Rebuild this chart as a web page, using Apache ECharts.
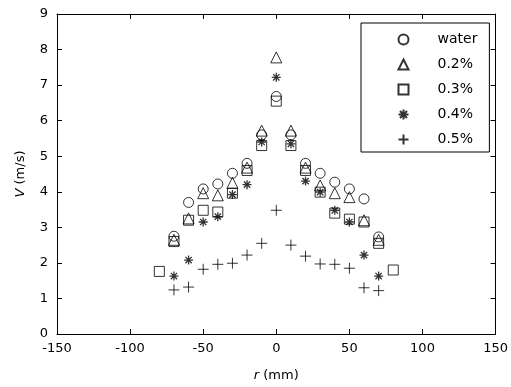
<!DOCTYPE html>
<html>
<head>
<meta charset="utf-8">
<script src="https://cdn.jsdelivr.net/npm/echarts@6/dist/echarts.min.js"></script>
<style>
html, body { margin: 0; padding: 0; background: #fff; }
#main { width: 511px; height: 387px; }
</style>
</head>
<body>
<div id="main"></div>
<script>
// radial positions (mm)
var rWater = [-70, -60, -50, -40, -30, -20, -10, 0, 10, 20, 30, 40, 50, 60, 70];
var vWater = [2.75, 3.7, 4.08, 4.22, 4.52, 4.8, 5.6, 6.68, 5.6, 4.8, 4.52, 4.27, 4.08, 3.8, 2.73];

var r02 = [-70, -60, -50, -40, -30, -20, -10, 0, 10, 20, 30, 40, 50, 60, 70];
var v02 = [2.65, 3.25, 3.96, 3.9, 4.25, 4.68, 5.72, 7.78, 5.72, 4.68, 4.18, 3.96, 3.85, 3.2, 2.65];

var r03 = [-80, -70, -60, -50, -40, -30, -20, -10, 0, 10, 20, 30, 40, 50, 60, 70, 80];
var v03 = [1.76, 2.6, 3.2, 3.48, 3.43, 3.96, 4.6, 5.3, 6.55, 5.3, 4.6, 3.99, 3.4, 3.23, 3.15, 2.55, 1.8];

var r04 = [-70, -60, -50, -40, -30, -20, -10, 0, 10, 20, 30, 40, 50, 60, 70];
var v04 = [1.63, 2.08, 3.15, 3.3, 3.92, 4.2, 5.4, 7.22, 5.35, 4.3, 3.99, 3.48, 3.15, 2.22, 1.63];

var r05 = [-70, -60, -50, -40, -30, -20, -10, 0, 10, 20, 30, 40, 50, 60, 70];
var v05 = [1.24, 1.32, 1.82, 1.96, 1.99, 2.22, 2.55, 3.48, 2.5, 2.19, 1.97, 1.96, 1.85, 1.3, 1.22];

var seriesNames = ['water', '0.2%', '0.3%', '0.4%', '0.5%'];

function pairs(xs, ys) {
    var out = [];
    for (var i = 0; i < xs.length; i++) {
        out.push([xs[i], ys[i]]);
    }
    return out;
}

var starPath = 'path://M5,0L5,10M0,5L10,5M1.5,1.5L8.5,8.5M8.5,1.5L1.5,8.5';
var plusPath = 'path://M5,0L5,10M0,5L10,5';

var fontName = 'DejaVu Sans';

function mk(name, data, symbol, size, bw) {
    return {
        name: name,
        type: 'scatter',
        data: data,
        symbol: symbol,
        symbolSize: size,
        itemStyle: { color: 'none', borderColor: '#000', borderWidth: bw },
        emphasis: { disabled: true },
        z: 3
    };
}

var myChart = echarts.init(document.getElementById('main'));
var option = {
    animation: false,
    backgroundColor: '#fff',
    grid: { left: 57, right: 14, top: 14, bottom: 53 },
    legend: {
        orient: 'vertical',
        left: 361,
        top: 23,
        padding: [9, 12, 5, 35],
        itemWidth: 10,
        itemHeight: 10,
        itemGap: 10,
        borderColor: '#000',
        borderWidth: 1,
        backgroundColor: '#fff',
        selectedMode: false,
        textStyle: { fontFamily: fontName, fontSize: 14, color: '#000', padding: [0, 0, 0, 24] },
        data: seriesNames
    },
    xAxis: [{
        type: 'value',
        min: -150, max: 150, interval: 50,
        position: 'bottom',
        name: '{i|r} (mm)',
        nameLocation: 'middle',
        nameGap: 35,
        nameTextStyle: {
            fontFamily: fontName, fontSize: 13, color: '#000',
            rich: { i: { fontFamily: fontName, fontSize: 13, fontStyle: 'italic', color: '#000' } }
        },
        axisLine: { onZero: false, lineStyle: { color: '#000', width: 1 } },
        axisTick: { inside: true, length: 5, lineStyle: { color: '#000' } },
        axisLabel: { fontFamily: fontName, fontSize: 13, color: '#000', margin: 8 },
        splitLine: { show: false }
    }, {
        type: 'value',
        min: -150, max: 150, interval: 50,
        position: 'top',
        axisLine: { onZero: false, lineStyle: { color: '#000', width: 1 } },
        axisTick: { inside: true, length: 5, lineStyle: { color: '#000' } },
        axisLabel: { show: false },
        splitLine: { show: false }
    }],
    yAxis: [{
        type: 'value',
        min: 0, max: 9, interval: 1,
        position: 'left',
        name: '{i|V} (m/s)',
        nameLocation: 'middle',
        nameGap: 30,
        nameTextStyle: {
            fontFamily: fontName, fontSize: 13, color: '#000',
            rich: { i: { fontFamily: fontName, fontSize: 13, fontStyle: 'italic', color: '#000' } }
        },
        axisLine: { show: true, onZero: false, lineStyle: { color: '#000', width: 1 } },
        axisTick: { show: true, inside: true, length: 5, lineStyle: { color: '#000' } },
        axisLabel: { fontFamily: fontName, fontSize: 13, color: '#000', margin: 9 },
        splitLine: { show: false }
    }, {
        type: 'value',
        min: 0, max: 9, interval: 1,
        position: 'right',
        axisLine: { show: true, onZero: false, lineStyle: { color: '#000', width: 1 } },
        axisTick: { show: true, inside: true, length: 5, lineStyle: { color: '#000' } },
        axisLabel: { show: false },
        splitLine: { show: false }
    }],
    series: [
        mk('water', pairs(rWater, vWater), 'circle', 10, 1),
        mk('0.2%', pairs(r02, v02), 'triangle', 11, 1),
        mk('0.3%', pairs(r03, v03), 'rect', 10, 1),
        mk('0.4%', pairs(r04, v04), starPath, 9, 1.3),
        mk('0.5%', pairs(r05, v05), plusPath, 11, 1)
    ]
};

myChart.setOption(option);
</script>
</body>
</html>
